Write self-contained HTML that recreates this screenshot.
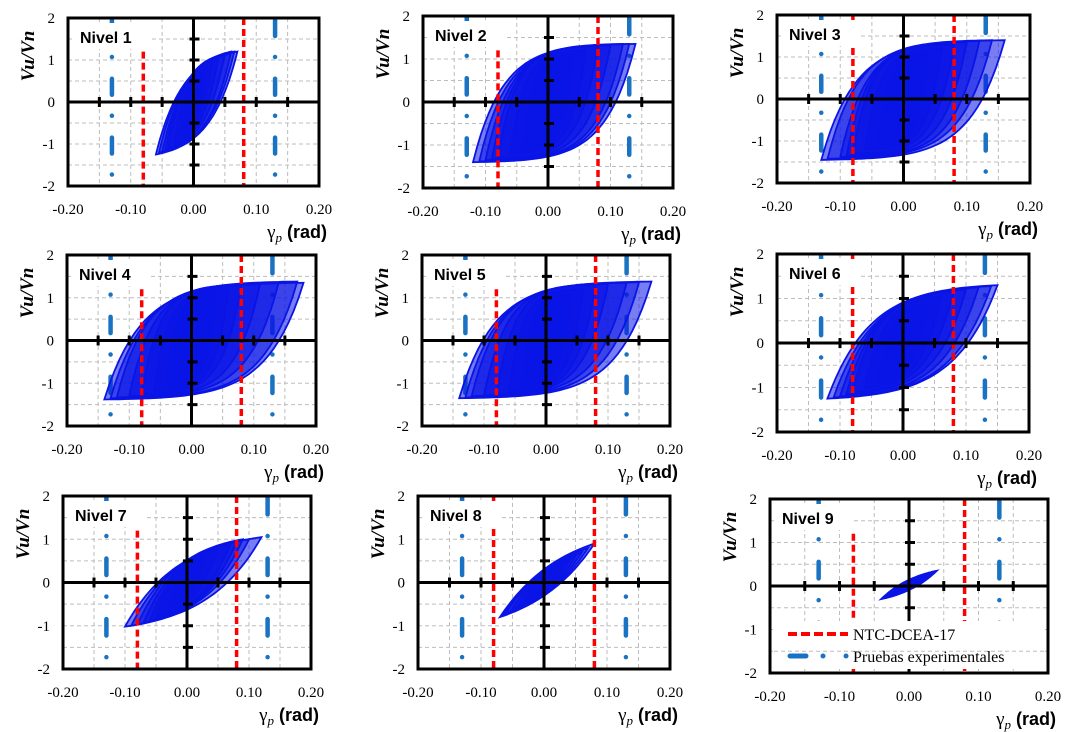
<!DOCTYPE html>
<html><head><meta charset="utf-8">
<style>
html,body{margin:0;padding:0;background:#fff;}
svg{display:block;}
.tick{font-family:"Liberation Serif",serif;font-size:15px;fill:#000;}
.ylab{font-family:"Liberation Serif",serif;font-size:19px;font-weight:bold;font-style:italic;fill:#000;}
.xlab{font-family:"Liberation Sans",sans-serif;font-size:18px;font-weight:bold;fill:#000;}
.nivel{font-family:"Liberation Sans",sans-serif;font-size:16px;font-weight:bold;fill:#000;}
.leg{font-family:"Liberation Serif",serif;font-size:16px;fill:#000;}
</style></head>
<body>
<svg id="chart" width="1074" height="732" viewBox="0 0 1074 732" xmlns="http://www.w3.org/2000/svg"></svg>
<script>
// Data: per-level cycle amplitudes (gamma_p in rad, Vu/Vn)
const levels = ["Nivel 1","Nivel 2","Nivel 3","Nivel 4","Nivel 5","Nivel 6","Nivel 7","Nivel 8","Nivel 9"];
const xTicks = [-0.20,-0.10,0.00,0.10,0.20];
const yTicks = [2,1,0,-1,-2];
const limitNTC = [-0.08,0.08];
const limitExp = [-0.13,0.13];
const gPos1=[0.01,0.02,0.03,0.04,0.05,0.06,0.065,0.07], gNeg1=[-0.01,-0.02,-0.03,-0.04,-0.045,-0.05,-0.055,-0.06], vPos1=[0.5,0.8,1.0,1.1,1.15,1.2,1.2,1.2], vNeg1=[-0.5,-0.8,-1.0,-1.1,-1.15,-1.2,-1.2,-1.25];
const gPos2=[0.02,0.04,0.06,0.08,0.10,0.12,0.13,0.14], gNeg2=[-0.02,-0.04,-0.06,-0.08,-0.09,-0.10,-0.11,-0.12], vPos2=[0.9,1.1,1.2,1.3,1.32,1.35,1.35,1.35], vNeg2=[-0.9,-1.1,-1.2,-1.3,-1.33,-1.35,-1.38,-1.4];
const gPos3=[0.02,0.04,0.06,0.08,0.10,0.12,0.14,0.16], gNeg3=[-0.02,-0.04,-0.06,-0.08,-0.09,-0.10,-0.12,-0.13], vPos3=[0.9,1.1,1.2,1.3,1.35,1.38,1.4,1.4], vNeg3=[-0.9,-1.1,-1.2,-1.3,-1.35,-1.38,-1.42,-1.45];
const gPos4=[0.02,0.04,0.06,0.08,0.11,0.14,0.17,0.18], gNeg4=[-0.02,-0.04,-0.06,-0.08,-0.10,-0.12,-0.13,-0.14], vPos4=[0.9,1.1,1.2,1.3,1.32,1.35,1.38,1.35], vNeg4=[-0.9,-1.1,-1.2,-1.25,-1.3,-1.33,-1.35,-1.38];
const gPos5=[0.02,0.04,0.06,0.08,0.10,0.13,0.15,0.17], gNeg5=[-0.02,-0.04,-0.06,-0.08,-0.10,-0.12,-0.13,-0.14], vPos5=[0.9,1.1,1.2,1.3,1.32,1.35,1.36,1.38], vNeg5=[-0.9,-1.1,-1.2,-1.25,-1.28,-1.3,-1.33,-1.35];
const gPos6=[0.02,0.04,0.06,0.08,0.10,0.12,0.14,0.15], gNeg6=[-0.02,-0.04,-0.06,-0.08,-0.09,-0.10,-0.11,-0.12], vPos6=[0.6,0.9,1.05,1.15,1.2,1.25,1.28,1.3], vNeg6=[-0.6,-0.9,-1.0,-1.1,-1.15,-1.2,-1.22,-1.25];
const gPos7=[0.01,0.03,0.05,0.07,0.08,0.09,0.10,0.12], gNeg7=[-0.01,-0.03,-0.05,-0.06,-0.07,-0.08,-0.09,-0.10], vPos7=[0.3,0.6,0.8,0.9,0.95,1.0,1.0,1.05], vNeg7=[-0.3,-0.6,-0.8,-0.88,-0.93,-0.97,-1.0,-1.02];
const gPos8=[0.01,0.02,0.03,0.04,0.05,0.06,0.07,0.08], gNeg8=[-0.01,-0.02,-0.03,-0.04,-0.05,-0.06,-0.065,-0.07], vPos8=[0.15,0.3,0.4,0.5,0.6,0.7,0.8,0.9], vNeg8=[-0.15,-0.3,-0.4,-0.5,-0.6,-0.7,-0.75,-0.8];
const gPos9=[0.005,0.01,0.015,0.02,0.025,0.03,0.035,0.04], gNeg9=[-0.005,-0.01,-0.015,-0.02,-0.025,-0.03,-0.035,-0.04], vPos9=[0.05,0.1,0.15,0.2,0.25,0.3,0.33,0.35], vNeg9=[-0.05,-0.1,-0.12,-0.17,-0.22,-0.26,-0.28,-0.3];

const cycles=[[gPos1,gNeg1,vPos1,vNeg1],[gPos2,gNeg2,vPos2,vNeg2],[gPos3,gNeg3,vPos3,vNeg3],[gPos4,gNeg4,vPos4,vNeg4],[gPos5,gNeg5,vPos5,vNeg5],[gPos6,gNeg6,vPos6,vNeg6],[gPos7,gNeg7,vPos7,vNeg7],[gPos8,gNeg8,vPos8,vNeg8],[gPos9,gNeg9,vPos9,vNeg9]];
// layout (pixels) and shape params
const boxes=[[68,18,319,186],[423,16,673,188],[777,15,1030,183],[67,255,316,426],[422,255,670,426],[777,254,1029,432],[63,496,311,669],[418,496,670,669],[770,499,1048,673]];
const curv=[3,5.5,5.5,5.5,5.5,4,2.5,1.5,1.5];
const redFull=[false,false,true,false,false,true,false,true,false];

const NS="http://www.w3.org/2000/svg";
const svg=document.getElementById('chart');
function mk(tag,attrs,parent){const e=document.createElementNS(NS,tag);for(const k in attrs)e.setAttribute(k,attrs[k]);(parent||svg).appendChild(e);return e;}

boxes.forEach((b,i)=>{
  const [L,T,R,B]=b;
  const g=mk('g',{});
  
  
  const sx=v=>L+(v+0.2)/0.4*(R-L);
  const sy=v=>T+(2-v)/4*(B-T);
  const uy=(B-T)/4;
  // grid
  [-0.15,-0.10,-0.05,0.05,0.10,0.15].forEach(v=>{
    const l=mk('line',{x1:sx(v),x2:sx(v),y1:T,y2:B,stroke:'#bdbdbd','stroke-width':1,'stroke-dasharray':'4,3'},g);
    
    
  });
  [-1.5,-1,-0.5,0.5,1,1.5].forEach(v=>{
    const l=mk('line',{x1:L,x2:R,y1:sy(v),y2:sy(v),stroke:'#bdbdbd','stroke-width':1,'stroke-dasharray':'4,3'},g);
    
    
  });
  // experimental limits (dash-dot)
  limitExp.forEach(v=>{
    const l=mk('line',{x1:sx(v),x2:sx(v),y1:T+2,y2:B-2,stroke:'#1a73c2','stroke-width':4.5,'stroke-linecap':'round',
      'stroke-dasharray':[0.38*uy,0.5*uy,0.001,0.52*uy].join(','),'stroke-dashoffset':0},g);
    
    
  });
  // hysteresis loops
  const [gp,gn,vp,vn]=cycles[i];const k=curv[i];
  const f=t=>(1-Math.exp(-k*t))/(1-Math.exp(-k));
  for(let c=0;c<gp.length;c++){
    let d='';
    const N=40;
    for(let s=0;s<=N;s++){const t=s/N;const x=gn[c]+(gp[c]-gn[c])*t;const y=vn[c]+(vp[c]-vn[c])*f(t);d+=(s?'L':'M')+sx(x).toFixed(1)+','+sy(y).toFixed(1);}
    for(let s=1;s<=N;s++){const t=s/N;const x=gp[c]+(gn[c]-gp[c])*t;const y=vp[c]+(vn[c]-vp[c])*f(t);d+='L'+sx(x).toFixed(1)+','+sy(y).toFixed(1);}
    const p=mk('path',{d:d+'Z',fill:'#0a14e6','fill-opacity':0.55,stroke:'#0a14e6','stroke-width':1.8},g);
    
    
  }
  // NTC limits (red dashed)
  limitNTC.forEach((v,j)=>{
    const top=(j===0&&!redFull[i])?sy(1.2):T;
    const l=mk('line',{x1:sx(v),x2:sx(v),y1:top,y2:B,stroke:'#ff0000','stroke-width':3.5,'stroke-dasharray':'7,4'},g);
    
    
  });
  // zero axes + ticks
  const ax=mk('line',{x1:L,x2:R,y1:sy(0),y2:sy(0),stroke:'#000','stroke-width':3},g);
  
  
  const ay=mk('line',{x1:sx(0),x2:sx(0),y1:T,y2:B,stroke:'#000','stroke-width':3},g);
  
  
  [-0.15,-0.10,-0.05,0.05,0.10,0.15].forEach(v=>{mk('line',{x1:sx(v),x2:sx(v),y1:sy(0)-5,y2:sy(0)+5,stroke:'#000','stroke-width':3},g);});
  [-1.5,-1,-0.5,0.5,1,1.5].forEach(v=>{mk('line',{x1:sx(0)-4,x2:sx(0)+6,y1:sy(v),y2:sy(v),stroke:'#000','stroke-width':3},g);});
  // frame
  const fr=mk('rect',{x:L,y:T,width:R-L,height:B-T,fill:'none',stroke:'#000','stroke-width':3},g);
  
  
  // nivel label
  mk('rect',{x:L+4,y:T+5,width:78,height:26,fill:'#fff'},g);
  const nt=mk('text',{x:L+12,y:T+25,class:'nivel'},g);nt.textContent=levels[i];
  
  
  // tick labels
  xTicks.forEach(v=>{const t=mk('text',{x:sx(v),y:B+28,class:'tick','text-anchor':'middle'},g);t.textContent=v.toFixed(2);
    
    });
  yTicks.forEach(v=>{const t=mk('text',{x:L-13,y:sy(v)+5,class:'tick','text-anchor':'end'},g);t.textContent=String(v);
    
    });
  // axis titles
  const yl=mk('text',{x:0,y:0,class:'ylab','text-anchor':'middle',transform:`translate(${L-34},${T+38}) rotate(-90)`},g);
  yl.textContent='Vu/Vn';
  
  
  const xl=mk('text',{x:R+8,y:B+52,class:'xlab','text-anchor':'end'},g);
  xl.innerHTML='<tspan font-family="Liberation Serif, serif" font-weight="normal" font-size="19">γ</tspan><tspan font-family="Liberation Serif, serif" font-style="italic" font-weight="normal" font-size="13" dy="4">p</tspan><tspan dy="-4"> (rad)</tspan>';
  
  
  if(i===8){
    const lg=mk('g',{},g);
    
    
    mk('rect',{x:L+3,y:B-52,width:R-L-6,height:48,fill:'#fff'},lg);
    mk('line',{x1:L+4,x2:R-4,y1:sy(-1.5),y2:sy(-1.5),stroke:'#bdbdbd','stroke-width':1,'stroke-dasharray':'4,3'},lg);
    const e1=mk('line',{x1:788,x2:848,y1:634,y2:634,stroke:'#ff0000','stroke-width':4,'stroke-dasharray':'9,4'},lg);
    
    
    const t1=mk('text',{x:853,y:640,class:'leg'},lg);t1.textContent='NTC-DCEA-17';
    const e2=mk('line',{x1:790,x2:848,y1:656,y2:656,stroke:'#1a73c2','stroke-width':5,'stroke-linecap':'round','stroke-dasharray':'16,17,0.01,23,0.01,50'},lg);
    
    
    const t2=mk('text',{x:853,y:662,class:'leg'},lg);t2.textContent='Pruebas experimentales';
  }
});
</script>
</body></html>
